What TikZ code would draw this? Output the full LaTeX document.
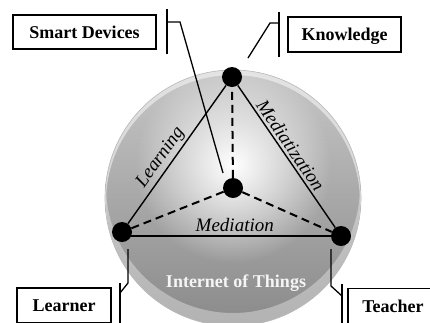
\documentclass[tikz,border=0pt]{standalone}
\usepackage{fontspec}
\setmainfont{Liberation Serif}
\usetikzlibrary{fadings}

% soft white glow: opaque in the middle, clear at the rim
\tikzfading[name=glow, inner color=transparent!0, outer color=transparent!100]

\begin{document}
\begin{tikzpicture}[x=1pt, y=-1pt,
  dot/.style={circle, fill=black, inner sep=0pt, minimum size=20pt},
  edge/.style={line width=1.4pt},
  dashedge/.style={line width=2pt, dash pattern=on 8pt off 5pt},
  labelbox/.style={draw, fill=white, line width=1.5pt, inner sep=0pt,
    text height=14pt, text depth=2pt, minimum height=35pt,
    font=\fontsize{18}{20}\selectfont\bfseries},
  leader/.style={line width=1.3pt},
  edgelabel/.style={font=\fontsize{19}{21}\selectfont\itshape, sloped, inner sep=2.5pt}
]
\clip (0,0) rectangle (430,322);

% the sphere
\coordinate (orbc) at (233,198);
\shade[top color=black!22, middle color=black!28, bottom color=black!46]
  (orbc) circle (128);
\fill[white, path fading=glow] (233,165) circle (98);
\begin{scope}
  \clip (orbc) circle (128);
  % glossy rim at the top and the reflection at the bottom
  \fill[white, opacity=0.5, even odd rule] (orbc) circle (128) (233,202) circle (127);
  \fill[white, opacity=0.35, even odd rule] (orbc) circle (128) (233,186) circle (127);
\end{scope}
\draw[black!28, line width=0.6pt] (orbc) circle (128);

% corners of the triangle and its centre
\node[dot] (K) at (232,77) {};
\node[dot] (S) at (233,188) {};
\node[dot] (L) at (122,232) {};
\node[dot] (T) at (341,236) {};

% sides of the triangle
\draw[edge] (L) -- node[edgelabel, above, pos=0.43] (learning) {Learning} (K);
\draw[edge] (K) -- node[edgelabel, above, pos=0.46] (mediatization) {Mediatization} (T);
\coordinate (Lbase) at (L |- T);
\draw[edge] (Lbase) -- node[edgelabel, above, pos=0.54, inner sep=3.5pt] (mediation) {Mediation} (T);

% spokes from the centre
\draw[dashedge] (S) -- (K);
\draw[dashedge] (S) -- (L);
\draw[dashedge] (S) -- (T);

\node[font=\fontsize{18}{20}\selectfont\bfseries, text=white!96!black, anchor=base]
  (iot) at (236,287) {Internet of Things};

% labelled boxes
\node[labelbox, minimum width=143pt, minimum height=34pt] (sd) at (84.5,32) {Smart Devices};
\node[labelbox, minimum width=113pt] (kn) at (344.5,34.5) {Knowledge};
\node[labelbox, minimum width=94pt] (ln) at (64,305.5) {Learner};
\node[labelbox, minimum width=90pt] (tc) at (393,306) {Teacher};

% callout leaders
\coordinate (sdtop) at (167,9);   \coordinate (sdbot) at (167,54);
\coordinate (sdjoin) at (167,22); \coordinate (sdknee) at (180,22);
\coordinate (sdtip) at (223,173);
\draw[leader] (sdtop) -- (sdbot);
\draw[leader] (sdjoin) -- (sdknee) -- (sdtip);

\coordinate (kntop) at (279,12);  \coordinate (knbot) at (279,57);
\coordinate (knjoin) at (279,23); \coordinate (knknee) at (270,23);
\coordinate (kntip) at (248,58);
\draw[leader] (kntop) -- (knbot);
\draw[leader] (knjoin) -- (knknee) -- (kntip);

\coordinate (lntip) at (128,249); \coordinate (lnknee) at (128,283);
\coordinate (lnjoin) at (120,293);
\coordinate (lntop) at (120,283); \coordinate (lnbot) at (120,330);
\draw[leader] (lntip) -- (lnknee) -- (lnjoin);
\draw[leader] (lntop) -- (lnbot);

\coordinate (tctip) at (331,249); \coordinate (tcknee) at (331,286);
\coordinate (tcjoin) at (342,296);
\coordinate (tctop) at (342,284); \coordinate (tcbot) at (342,330);
\draw[leader] (tctip) -- (tcknee) -- (tcjoin);
\draw[leader] (tctop) -- (tcbot);
\end{tikzpicture}
\end{document}
